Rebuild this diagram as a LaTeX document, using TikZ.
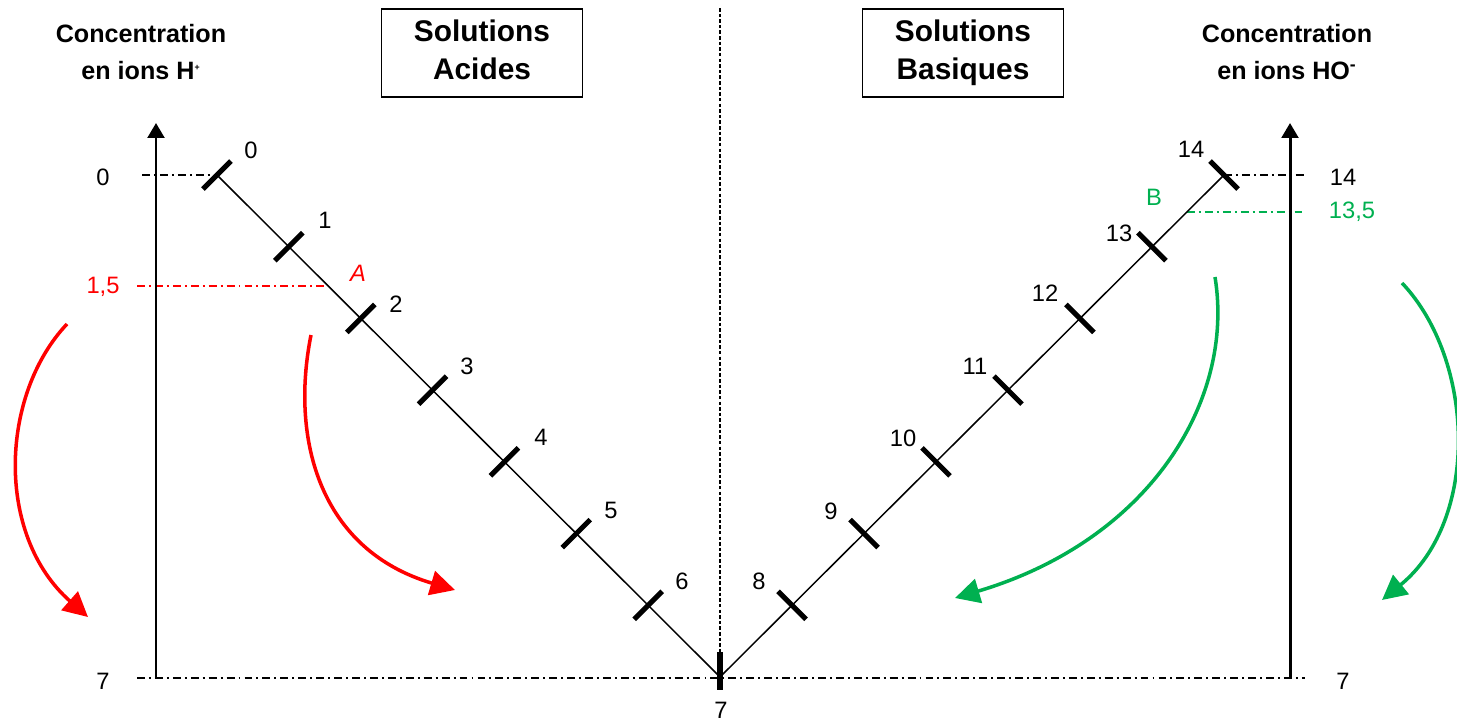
\documentclass[tikz,border=0pt]{standalone}
\usepackage{fontspec}
\setmainfont{Liberation Sans}
\usetikzlibrary{arrows.meta}
\definecolor{myred}{RGB}{255,0,0}
\definecolor{mygreen}{RGB}{0,176,80}
\begin{document}
\begin{tikzpicture}[x=0.02cm,y=-0.02cm,
  numlbl/.style={font=\fontsize{13.5}{16}\selectfont, inner sep=0pt},
  header/.style={font=\bfseries\fontsize{14.3}{21.5}\selectfont, align=center, inner sep=0pt},
  titlebox/.style={draw, line width=0.9pt, minimum width=4.02cm, minimum height=1.76cm, align=center, inner sep=0pt, font=\bfseries\fontsize{17}{21.5}\selectfont},
  scaleline/.style={line width=0.85pt},
  tickmark/.style={line width=2.9pt},
  axisline/.style={line width=1.7pt, -{Triangle[length=8.5pt,width=9.5pt]}},
  guide/.style={line width=0.85pt, dash pattern=on 4.5pt off 2.3pt on 1.1pt off 2.3pt},
  centerline/.style={line width=0.85pt, dash pattern=on 2pt off 1.2pt},
  bendarrow/.style={line width=2pt, -{Triangle[length=14pt,width=14pt]}},
]
\useasboundingbox (0,0) rectangle (1457,721);

% scale points
\foreach \k in {0,...,7} \coordinate (t\k) at ({217+503*\k/7},{175+502*\k/7});
\foreach \k in {8,...,14} \coordinate (t\k) at ({720+504*(\k-7)/7},{677-502*(\k-7)/7});

% headers and boxes
\node[header] (hl) at (141,52) {Concentration\\en ions H\textsuperscript{\tiny +}};
\node[header] (hr) at (1287,52) {Concentration\\en ions HO\textsuperscript{-}};
\node[titlebox] (bac) at (482,53) {Solutions\\Acides\vphantom{q}};
\node[titlebox] (bba) at (963,53) {Solutions\\Basiques};

% centre line
\draw[centerline] (720,8) -- (t7);

% guide lines
\coordinate (g0) at (142,175);
\coordinate (g14) at (1305,175);
\coordinate (gl) at (137,678);
\coordinate (gr) at (1305,678);
\coordinate (pA) at (328,286);
\coordinate (pAl) at (137,286);
\coordinate (pB) at (1187,212);
\coordinate (pBr) at (1305,212);
\draw[guide] (g0) -- (t0);
\draw[guide] (t14) -- (g14);
\draw[guide] (gl) -- (gr);
\draw[guide, myred] (pAl) -- (pA);
\draw[guide, mygreen] (pB) -- (pBr);

% axes
\coordinate (al0) at (156,678);
\coordinate (al1) at (156,123);
\coordinate (ar0) at (1290,678);
\coordinate (ar1) at (1290,123);
\draw[axisline] (al0) -- (al1);
\draw[axisline] (ar0) -- (ar1);

% V scale
\draw[scaleline] (t0) -- (t7) -- (t14);
\foreach \k in {0,...,6} \draw[tickmark] (t\k) ++(-14,14) -- ++(28,-28);
\foreach \k in {8,...,14} \draw[tickmark] (t\k) ++(-14,-14) -- ++(28,28);
\draw[tickmark] (720,652) -- (720,690);

% tick labels
\node[numlbl] (l0) at (251,150) {0};
\node[numlbl] (l1) at (325,220) {1};
\node[numlbl] (l2) at (396,304) {2};
\node[numlbl] (l3) at (467,366) {3};
\node[numlbl] (l4) at (541,437) {4};
\node[numlbl] (l5) at (611,510) {5};
\node[numlbl] (l6) at (682,581) {6};
\node[numlbl] (l7) at (721,710) {7};
\node[numlbl] (l8) at (759,581) {8};
\node[numlbl] (l9) at (831,511) {9};
\node[numlbl] (l10) at (903,438) {10};
\node[numlbl] (l11) at (975,366) {11};
\node[numlbl] (l12) at (1045,293) {12};
\node[numlbl] (l13) at (1119,233) {13};
\node[numlbl] (l14) at (1191,149) {14};

% axis labels
\node[numlbl] (a0) at (103,177) {0};
\node[numlbl, text=myred] (a15) at (103,287) {1,5};
\node[numlbl] (a7) at (103,681) {7};
\node[numlbl] (b14) at (1343,177) {14};
\node[numlbl, text=mygreen] (b135) at (1352,212) {13,5};
\node[numlbl] (b7) at (1343,681) {7};
\node[numlbl, text=myred, font=\itshape\fontsize{13.5}{16}\selectfont] (A) at (358,273) {A};
\node[numlbl, text=mygreen] (B) at (1154,197) {B};

% curved arrows
\coordinate (r1s) at (67,324); \coordinate (r1e) at (88,617);
\coordinate (r2s) at (311,335); \coordinate (r2e) at (455,590);
\coordinate (g1s) at (1215,277); \coordinate (g1e) at (955,598);
\coordinate (g2s) at (1402,283); \coordinate (g2e) at (1382,600);
\draw[bendarrow, myred] (r1s) .. controls (0,395) and (-5,535) .. (r1e);
\draw[bendarrow, myred] (r2s) .. controls (290,440) and (320,550) .. (r2e);
\draw[bendarrow, mygreen] (g1s) .. controls (1235,400) and (1150,540) .. (g1e);
\draw[bendarrow, mygreen] (g2s) .. controls (1475,360) and (1480,520) .. (g2e);
\end{tikzpicture}
\end{document}
